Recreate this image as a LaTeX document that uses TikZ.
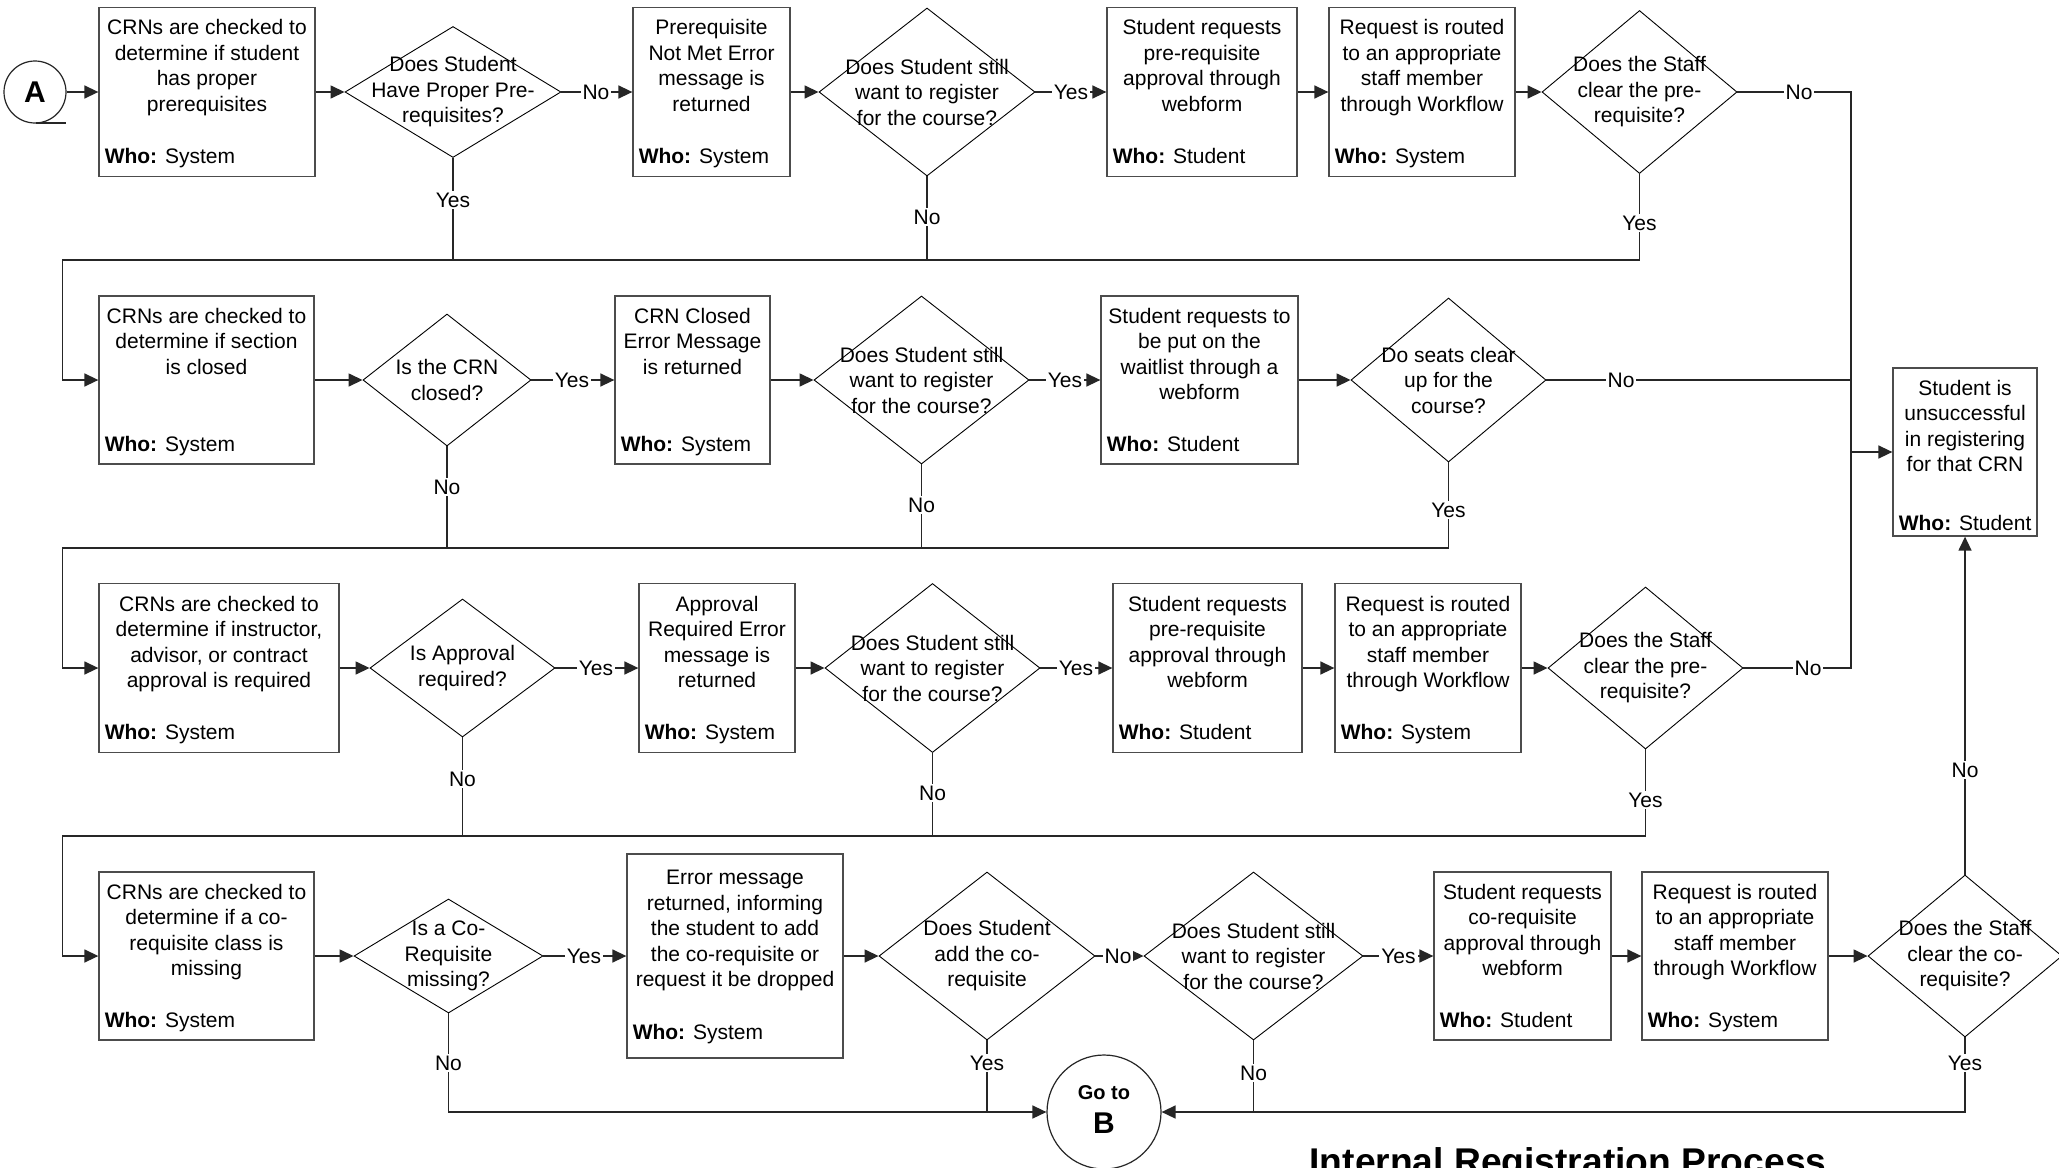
\documentclass[tikz,border=0pt]{standalone}
\usepackage{fontspec}
\setmainfont{Liberation Sans}
\usetikzlibrary{shapes.geometric,arrows.meta}
\tikzset{
  pbox/.style={draw=black!70, line width=0.65pt, rectangle, inner sep=0pt},
  dia/.style={draw=black, line width=0.45pt, diamond, inner sep=0pt},
  txt/.style={font=\fontsize{10.5}{12.75}\selectfont, inner sep=0pt},
  dtext/.style={txt, align=center},
  lbl/.style={txt, fill=white, inner sep=1pt},
  conn/.style={draw=black!85, line width=0.75pt},
  arr/.style={conn, -{Triangle[length=7pt,width=6.5pt]}},
  endpt/.style={circle, draw=black!85, line width=0.6pt, inner sep=0pt},
}
% name, cx, cy, w, h, text, who, first-baseline offset (px), who-baseline offset (px)
\newcommand{\procbox}[9]{%
  \node[pbox, minimum width={#4*0.5pt}, minimum height={#5*0.5pt}] (#1) at (#2,#3) {};
  \node[txt, anchor=base] (#1-t) at ([yshift={-#8*0.5pt}]#1.north) {\parbox[t]{\dimexpr #4pt/2+20pt\relax}{\centering #6}};
  \node[txt, anchor=base west] (#1-w) at ([xshift=3pt,yshift={#9*0.5pt}]#1.south west) {\textbf{Who:} #7};
}
% name, cx, cy, w, h, text
\newcommand{\decision}[6]{%
  \node[dia, minimum width={#4*0.5pt}, minimum height={#5*0.5pt}] (#1) at (#2,#3) {};
  \node[dtext] (#1-t) at (#1.center) {#6};
}
\begin{document}
\begin{tikzpicture}[x=0.5pt,y=-0.5pt]
\useasboundingbox (0,0) rectangle (2059,1167);
\fill[white] (0,0) rectangle (2059,1167);
\clip (0,0) rectangle (2059,1167);

% start connector
\node[endpt, minimum size=31pt, font=\fontsize{15}{18}\selectfont\bfseries] (A) at (35,92) {A};
\draw[black!85, line width=0.6pt] (36,123) -- (66,123);

% ---------- row 1 ----------
\procbox{b1}{207}{92}{216}{169}{CRNs are checked to\\determine if student\\has proper\\prerequisites}{System}{28}{13.5}
\decision{d1}{453}{92}{216}{131}{Does Student\\Have Proper Pre-\\requisites?}
\procbox{b2}{711.5}{92}{157}{169}{Prerequisite\\Not Met Error\\message is\\returned}{System}{28}{13.5}
\decision{d2}{927}{92}{216}{168}{Does Student still\\want to register\\for the course?}
\procbox{b3}{1202}{92}{190}{169}{Student requests\\pre-requisite\\approval through\\webform}{Student}{28}{13.5}
\procbox{b4}{1422}{92}{186}{169}{Request is routed\\to an appropriate\\staff member\\through Workflow}{System}{28}{13.5}
\decision{d3}{1639.5}{92}{195}{163}{Does the Staff\\clear the pre-\\requisite?}

% ---------- row 2 ----------
\procbox{b5}{206.5}{380}{215}{168}{CRNs are checked to\\determine if section\\is closed}{System}{28}{13.5}
\decision{d4}{447}{380}{168}{132}{Is the CRN\\closed?}
\procbox{b6}{692.5}{380}{155}{168}{CRN Closed\\Error Message\\is returned}{System}{28}{13.5}
\decision{d5}{921.5}{380}{215}{168}{Does Student still\\want to register\\for the course?}
\procbox{b7}{1199.5}{380}{197}{168}{Student requests to\\be put on the\\waitlist through a\\webform}{Student}{28}{13.5}
\decision{d6}{1448.5}{380}{195}{164}{Do seats clear\\up for the\\course?}
\procbox{b8}{1965}{452}{144}{168}{Student is\\unsuccessful\\in registering\\for that CRN}{Student}{28}{6}

% ---------- row 3 ----------
\procbox{b9}{219}{668}{240}{169}{CRNs are checked to\\determine if instructor,\\advisor, or contract\\approval is required}{System}{28.5}{13.5}
\decision{d7}{462.5}{668}{185}{138}{Is Approval\\required?}
\procbox{b10}{717}{668}{156}{169}{Approval\\Required Error\\message is\\returned}{System}{28.5}{13.5}
\decision{d8}{932.5}{668}{215}{169}{Does Student still\\want to register\\for the course?}
\procbox{b11}{1207.5}{668}{189}{169}{Student requests\\pre-requisite\\approval through\\webform}{Student}{28.5}{13.5}
\procbox{b12}{1428}{668}{186}{169}{Request is routed\\to an appropriate\\staff member\\through Workflow}{System}{28.5}{13.5}
\decision{d9}{1645.5}{668}{195}{162}{Does the Staff\\clear the pre-\\requisite?}

% ---------- row 4 ----------
\procbox{b13}{206.5}{956}{215}{168}{CRNs are checked to\\determine if a co-\\requisite class is\\missing}{System}{28}{13.5}
\decision{d10}{448.5}{956}{189}{114}{Is a Co-\\Requisite\\missing?}
\procbox{b14}{735}{956}{216}{204}{Error message\\returned, informing\\the student to add\\the co-requisite or\\request it be dropped}{System}{31.5}{19}
\decision{d11}{987}{956}{216}{168}{Does Student\\add the co-\\requisite}
\decision{d12}{1253.5}{956}{219}{168}{Does Student still\\want to register\\for the course?}
\procbox{b15}{1522.5}{956}{177}{168}{Student requests\\co-requisite\\approval through\\webform}{Student}{28}{13.5}
\procbox{b16}{1735}{956}{186}{168}{Request is routed\\to an appropriate\\staff member\\through Workflow}{System}{28}{13.5}
\decision{d13}{1965}{956}{194}{162}{Does the Staff\\clear the co-\\requisite?}

% end connector
\node[endpt, minimum size=57pt] (B) at (1104,1112) {};
\node[font=\fontsize{10}{12}\selectfont\bfseries, inner sep=0pt, anchor=base] (Bt1) at (1104,1099) {Go to};
\node[font=\fontsize{15}{18}\selectfont\bfseries, inner sep=0pt, anchor=base] (Bt2) at (1104,1133) {B};

% title
\node[font=\fontsize{18.6}{22}\selectfont\bfseries, inner sep=0pt, anchor=base] (title) at (1568,1174) {Internal Registration Process};

% bus coordinates
\coordinate (L1) at (62.5,260);
\coordinate (L2) at (62.5,548);
\coordinate (L3) at (62.5,836);
\coordinate (L4) at (62.5,1112);
\coordinate (R1) at (1851,92);
\coordinate (R3) at (1851,668);
\coordinate (R8) at (1851,452);

% ---------- row 1 connectors ----------
\draw[arr] (A.east) -- (b1.west);
\draw[arr] (b1.east) -- (d1.west);
\draw[arr] (d1.east) -- (b2.west);
\draw[arr] (b2.east) -- (d2.west);
\draw[arr] (d2.east) -- (b3.west);
\draw[arr] (b3.east) -- (b4.west);
\draw[arr] (b4.east) -- (d3.west);
\draw[conn] (d3.east) -- (R1) -- (R3) -- (d9.east);
\draw[arr] (R8) -- (b8.west);
\draw[conn] (d1.south) -- (d1.south |- L1);
\draw[conn] (d2.south) -- (d2.south |- L1);
\draw[arr] (d3.south) -- (d3.south |- L1) -- (L1) -- (L1 |- b5.west) -- (b5.west);

% ---------- row 2 connectors ----------
\draw[arr] (b5.east) -- (d4.west);
\draw[arr] (d4.east) -- (b6.west);
\draw[arr] (b6.east) -- (d5.west);
\draw[arr] (d5.east) -- (b7.west);
\draw[arr] (b7.east) -- (d6.west);
\draw[conn] (d6.east) -- (d6.east -| R1);
\draw[conn] (d4.south) -- (d4.south |- L2);
\draw[conn] (d5.south) -- (d5.south |- L2);
\draw[arr] (d6.south) -- (d6.south |- L2) -- (L2) -- (L2 |- b9.west) -- (b9.west);

% ---------- row 3 connectors ----------
\draw[arr] (b9.east) -- (d7.west);
\draw[arr] (d7.east) -- (b10.west);
\draw[arr] (b10.east) -- (d8.west);
\draw[arr] (d8.east) -- (b11.west);
\draw[arr] (b11.east) -- (b12.west);
\draw[arr] (b12.east) -- (d9.west);
\draw[conn] (d7.south) -- (d7.south |- L3);
\draw[conn] (d8.south) -- (d8.south |- L3);
\draw[arr] (d9.south) -- (d9.south |- L3) -- (L3) -- (L3 |- b13.west) -- (b13.west);

% ---------- row 4 connectors ----------
\draw[arr] (b13.east) -- (d10.west);
\draw[arr] (d10.east) -- (b14.west);
\draw[arr] (b14.east) -- (d11.west);
\draw[arr] (d11.east) -- (d12.west);
\draw[arr] (d12.east) -- (b15.west);
\draw[arr] (b15.east) -- (b16.west);
\draw[arr] (b16.east) -- (d13.west);
\draw[arr] (d13.north) -- (b8.south);
\draw[arr] (d10.south) -- (d10.south |- L4) -- (B.west);
\draw[conn] (d11.south) -- (d11.south |- L4);
\draw[conn] (d12.south) -- (d12.south |- L4);
\draw[arr] (d13.south) -- (d13.south |- L4) -- (B.east);

% ---------- labels ----------
\node[lbl] (l1) at (596,92) {No};
\node[lbl] (l2) at (1071,92) {Yes};
\node[lbl] (l3) at (1799,92) {No};
\node[lbl] (l4) at (453,200) {Yes};
\node[lbl] (l5) at (927,217) {No};
\node[lbl] (l6) at (1639.5,223) {Yes};
\node[lbl] (l7) at (572,380) {Yes};
\node[lbl] (l8) at (1065,380) {Yes};
\node[lbl] (l9) at (1621,380) {No};
\node[lbl] (l10) at (447,487) {No};
\node[lbl] (l11) at (921.5,505) {No};
\node[lbl] (l12) at (1448.5,510) {Yes};
\node[lbl] (l13) at (596,668) {Yes};
\node[lbl] (l14) at (1076,668) {Yes};
\node[lbl] (l15) at (1808,668) {No};
\node[lbl] (l16) at (462.5,779) {No};
\node[lbl] (l17) at (932.5,793) {No};
\node[lbl] (l18) at (1645.5,800) {Yes};
\node[lbl] (l19) at (1965,770) {No};
\node[lbl] (l20) at (584,956) {Yes};
\node[lbl] (l21) at (1118,956) {No};
\node[lbl] (l22) at (1398.5,956) {Yes};
\node[lbl] (l23) at (448.5,1063) {No};
\node[lbl] (l24) at (987,1063) {Yes};
\node[lbl] (l25) at (1253.5,1073) {No};
\node[lbl] (l26) at (1965,1063) {Yes};
\end{tikzpicture}
\end{document}
